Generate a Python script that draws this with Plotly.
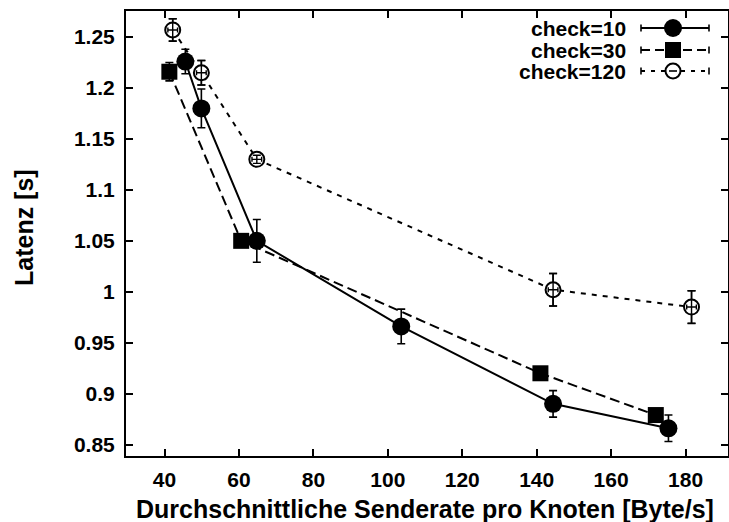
import plotly.graph_objects as go

# Mean send rate per node [Byte/s] and latency [s] for three check intervals
x_check10 = [45.6, 49.9, 64.8, 103.6, 144.4, 175.4]
y_check10 = [1.226, 1.180, 1.050, 0.966, 0.890, 0.866]
e_check10 = [0.012, 0.019, 0.021, 0.017, 0.013, 0.013]

x_check30 = [41.3, 60.6, 141.0, 172.0]
y_check30 = [1.216, 1.050, 0.920, 0.879]
e_check30 = [0.009, 0.006, 0.006, 0.006]

x_check120 = [42.2, 49.9, 64.8, 144.4, 181.6]
y_check120 = [1.257, 1.215, 1.130, 1.002, 0.985]
e_check120 = [0.011, 0.012, 0.004, 0.016, 0.016]
ex_check120 = [1.3, 1.3, 1.3, 1.3, 1.3]

series_names = ["check=10", "check=30", "check=120"]
x_ticks = [40, 60, 80, 100, 120, 140, 160, 180]
y_ticks = [0.85, 0.9, 0.95, 1.0, 1.05, 1.1, 1.15, 1.2, 1.25]
y_ticktext = ["0.85", "0.9", "0.95", "1", "1.05", "1.1", "1.15", "1.2", "1.25"]
x_title = "Durchschnittliche Senderate pro Knoten [Byte/s]"
y_title = "Latenz [s]"

FONT = "Liberation Sans"
W, H = 729, 522
ML, MR, MT, MB = 126, 1, 11, 66
PW, PH = W - ML - MR, H - MT - MB

fig = go.Figure()

def err(arr, w=4, t=1.6):
    return dict(type="data", array=arr, visible=True, color="black", thickness=t, width=w)

fig.add_trace(go.Scatter(
    x=x_check10, y=y_check10, mode="lines+markers", name=series_names[0],
    line=dict(color="black", width=2),
    marker=dict(symbol="circle", size=18, color="black"),
    error_y=err(e_check10),
))
fig.add_trace(go.Scatter(
    x=x_check30, y=y_check30, mode="lines+markers", name=series_names[1],
    line=dict(color="black", width=2, dash="10px,5px"),
    marker=dict(symbol="square", size=16, color="black"),
    error_y=err(e_check30),
))
fig.add_trace(go.Scatter(
    x=x_check120, y=y_check120, mode="lines+markers", name=series_names[2],
    line=dict(color="black", width=2, dash="5px,6px"),
    marker=dict(symbol="circle", size=15, color="white", line=dict(color="black", width=2)),
    error_y=err(e_check120),
))
# error bars of the open circles drawn again on top so they show through
fig.add_trace(go.Scatter(
    x=x_check120, y=y_check120, mode="markers", name=series_names[2], showlegend=False,
    marker=dict(size=1, opacity=0),
    error_y=err(e_check120, w=4, t=1.4),
    error_x=dict(type="data", array=ex_check120, visible=True, color="black", thickness=1.4, width=2.5),
))

# Key in the upper right: label on the left, line sample on the right
def px_x(p):
    return (p - ML) / PW

def px_y(p):
    return (H - MB - p) / PH

key_rows = [28, 50, 71]
key_dash = ["solid", "9px,5px", "4px,6px"]
key_x0, key_x1, key_mid = 641, 709, 673
shapes = []
annotations = []
for i, name in enumerate(series_names):
    yy = px_y(key_rows[i])
    annotations.append(dict(
        x=px_x(628), y=yy, xref="paper", yref="paper", text=name, showarrow=False,
        xanchor="right", yanchor="middle",
        font=dict(family=FONT, size=21, color="black", weight="bold"),
    ))
    shapes.append(dict(type="line", xref="paper", yref="paper",
                       x0=px_x(key_x0), x1=px_x(key_x1), y0=yy, y1=yy,
                       line=dict(color="black", width=2, dash=key_dash[i])))
    for cx in (key_x0, key_x1):
        shapes.append(dict(type="line", xref="paper", yref="paper",
                           xsizemode="pixel", ysizemode="pixel",
                           xanchor=px_x(cx), yanchor=yy, x0=0, x1=0, y0=-3.5, y1=3.5,
                           line=dict(color="black", width=1.6)))
shapes.append(dict(type="circle", xref="paper", yref="paper", xsizemode="pixel", ysizemode="pixel",
                   xanchor=px_x(key_mid), yanchor=px_y(key_rows[0]), x0=-9, x1=9, y0=-9, y1=9,
                   fillcolor="black", line=dict(color="black", width=0)))
shapes.append(dict(type="rect", xref="paper", yref="paper", xsizemode="pixel", ysizemode="pixel",
                   xanchor=px_x(key_mid), yanchor=px_y(key_rows[1]), x0=-8, x1=8, y0=-8, y1=8,
                   fillcolor="black", line=dict(color="black", width=0)))
shapes.append(dict(type="circle", xref="paper", yref="paper", xsizemode="pixel", ysizemode="pixel",
                   xanchor=px_x(key_mid), yanchor=px_y(key_rows[2]), x0=-7.5, x1=7.5, y0=-7.5, y1=7.5,
                   fillcolor="white", line=dict(color="black", width=2)))
shapes.append(dict(type="line", xref="paper", yref="paper", xsizemode="pixel", ysizemode="pixel",
                   xanchor=px_x(key_mid), yanchor=px_y(key_rows[2]), x0=-4, x1=4, y0=0, y1=0,
                   line=dict(color="black", width=1.6)))

# Axis titles
title_font = dict(family=FONT, size=25, color="black", weight="bold")
annotations.append(dict(x=px_x(425), y=px_y(509), xref="paper", yref="paper", text=x_title,
                        showarrow=False, xanchor="center", yanchor="middle", font=title_font))
annotations.append(dict(x=px_x(24), y=px_y(228), xref="paper", yref="paper", text=y_title,
                        showarrow=False, xanchor="center", yanchor="middle", textangle=-90,
                        font=title_font))

axis_common = dict(
    showline=True, linecolor="black", linewidth=2, mirror="ticks",
    ticks="inside", ticklen=7, tickwidth=1.5, tickcolor="black",
    showgrid=False, zeroline=False,
    tickfont=dict(family=FONT, size=21, color="black", weight="bold"),
)

fig.update_layout(
    width=W, height=H,
    margin=dict(l=ML, r=MR, t=MT, b=MB, autoexpand=False),
    paper_bgcolor="white", plot_bgcolor="white",
    showlegend=False,
    shapes=shapes, annotations=annotations,
    xaxis=dict(range=[29.65, 191.4], tickvals=x_ticks, ticklabelstandoff=4, **axis_common),
    yaxis=dict(range=[0.8388, 1.2756], tickvals=y_ticks, ticktext=y_ticktext,
               ticklabelstandoff=5, **axis_common),
)

fig.write_html("out.html")
